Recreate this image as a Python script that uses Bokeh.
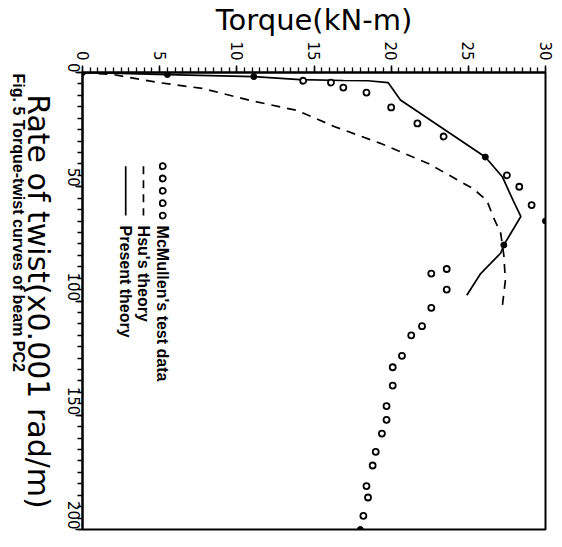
import math
from bokeh.plotting import figure
from bokeh.layouts import row
from bokeh.models import Range1d, SingleIntervalTicker, Label
from bokeh.embed import file_html
from bokeh.resources import INLINE

# ---------------- data (torque kN-m, twist x0.001 rad/m) ----------------
present_torque = [0.0, 5.5, 11.1, 14.1, 16.9, 18.5, 19.8, 20.6, 26.1, 27.2, 27.9, 28.4, 27.3, 27.1, 25.8, 24.9]
present_twist = [0.0, 0.9, 1.8, 3.1, 3.5, 3.6, 4.4, 12.0, 37.0, 45.6, 56.0, 63.0, 75.5, 79.0, 88.0, 97.5]

hsu_torque = [0.0, 2.0, 4.9, 7.8, 10.9, 13.9, 16.3, 19.3, 22.4, 25.3, 26.2, 26.6, 27.1, 27.3, 27.4, 27.2]
hsu_twist = [0.0, 0.9, 4.4, 7.0, 12.3, 16.6, 23.6, 31.0, 39.8, 50.8, 56.0, 63.0, 70.4, 80.0, 91.0, 102.4]

test_torque = [14.3, 16.1, 16.9, 18.4, 20.0, 21.7, 23.4, 27.5, 28.3, 29.1, 23.6, 22.6, 23.6, 22.6,
               22.0, 21.3, 20.7, 20.1, 20.1, 19.7, 19.7, 19.4, 19.0, 18.8, 18.4, 18.5, 18.2]
test_twist = [3.6, 4.4, 6.6, 8.8, 15.3, 22.3, 28.0, 45.0, 50.0, 58.0, 86.0, 88.0, 95.0, 103.0,
              111.0, 115.0, 124.0, 129.0, 137.0, 146.0, 152.0, 158.0, 166.0, 172.0, 181.0, 186.0, 194.0]

marked_torque = [0.0, 5.5, 11.1, 26.1, 27.3, 30.0, 18.0]
marked_twist = [0.0, 0.9, 1.8, 37.0, 75.5, 65.0, 200.0]

torque_ticks = [0, 5, 10, 15, 20, 25, 30]
twist_ticks = [0, 50, 100, 150, 200]

legend_labels = ["McMullen's test data", "Hsu's theory", "Present theory"]
x_title = "Torque(kN-m)"
y_title = "Rate of twist(x0.001 rad/m)"
caption = "Fig. 5 Torque-twist curves of beam PC2"

SIDE_W = 56
TOP, FRAME_H, BOTTOM = 69, 457, 12

# ---------------- main figure ----------------
p = figure(frame_width=463, frame_height=FRAME_H,
           min_border_left=82 - SIDE_W, min_border_top=TOP, min_border_right=10, min_border_bottom=BOTTOM,
           x_range=Range1d(0, 30), y_range=Range1d(200, 0),
           x_axis_location="above", output_backend="svg", toolbar_location=None)
p.grid.visible = False
p.outline_line_color = "black"
p.outline_line_width = 2
p.background_fill_color = "white"
p.border_fill_color = "white"

xa = p.xaxis[0]
xa.ticker = SingleIntervalTicker(interval=5, num_minor_ticks=10)
ya = p.yaxis[0]
ya.ticker = SingleIntervalTicker(interval=50, num_minor_ticks=10)
for ax in (xa, ya):
    ax.axis_line_width = 2
    ax.axis_line_color = "black"
    ax.major_tick_line_width = 1.5
    ax.minor_tick_line_width = 1.3
    ax.major_tick_in = 0
    ax.minor_tick_in = 0
    ax.major_tick_out = 7
    ax.minor_tick_out = 5
    ax.major_label_text_font = "DejaVu Sans"
    ax.major_label_text_font_size = "15px"
    ax.major_label_text_color = "black"
    ax.major_label_orientation = -math.pi / 2
xa.major_label_standoff = 5
ya.major_label_standoff = 2

xa.axis_label = x_title
xa.axis_label_text_font = "DejaVu Sans"
xa.axis_label_text_font_style = "normal"
xa.axis_label_text_font_size = "29px"
xa.axis_label_text_color = "black"
xa.axis_label_standoff = 1

# ---------------- series ----------------
p.line(present_torque, present_twist, line_color="black", line_width=1.7)
p.line(hsu_torque, hsu_twist, line_color="black", line_width=1.7, line_dash="9 7")
p.scatter(test_torque, test_twist, marker="circle", size=6, fill_color="white",
          line_color="black", line_width=1.8)
p.scatter(marked_torque, marked_twist, marker="circle", size=6, fill_color="black",
          line_color="black")

# ---------------- legend (rotated, drawn in data space) ----------------
leg_text_twist = 67.0
leg_sample_twist = [41.0, 46.4, 51.8, 57.2, 62.6]
leg_cols = [5.2, 3.95, 2.8]
p.scatter([leg_cols[0]] * 5, leg_sample_twist, marker="circle", size=6, fill_color="white",
          line_color="black", line_width=1.8)
p.line([leg_cols[1]] * 2, [leg_sample_twist[0], leg_sample_twist[-1]], line_color="black",
       line_width=1.7, line_dash="8 6")
p.line([leg_cols[2]] * 2, [leg_sample_twist[0], leg_sample_twist[-1]], line_color="black",
       line_width=1.7)
for c, t in zip(leg_cols, legend_labels):
    p.add_layout(Label(x=c, y=leg_text_twist, text=t, angle=-math.pi / 2,
                       text_align="left", text_baseline="middle",
                       text_font="Liberation Sans", text_font_style="bold",
                       text_font_size="16px", text_color="black"))

# ---------------- side strip holding the rotated y-title and caption ----------------
# its frame is aligned with the main frame; coordinates are page pixels
side = figure(frame_width=SIDE_W, frame_height=FRAME_H,
              min_border_left=0, min_border_right=0, min_border_top=TOP, min_border_bottom=BOTTOM,
              x_range=Range1d(0, SIDE_W), y_range=Range1d(TOP + FRAME_H, TOP),
              x_axis_type=None, y_axis_type=None,
              output_backend="svg", toolbar_location=None)
side.grid.visible = False
side.outline_line_color = None
side.background_fill_color = "white"
side.border_fill_color = "white"
side.add_layout(Label(x=37.5, y=298, text=y_title, angle=-math.pi / 2,
                      text_align="center", text_baseline="middle", text_font="DejaVu Sans",
                      text_font_size="30px", text_color="black"))
side.add_layout(Label(x=18, y=70, text=caption, angle=-math.pi / 2,
                      text_align="left", text_baseline="middle", text_font="Liberation Sans",
                      text_font_style="bold", text_font_size="16px", text_color="black"))

layout = row(side, p, spacing=0)
open("out.html", "w").write(file_html(layout, INLINE))
